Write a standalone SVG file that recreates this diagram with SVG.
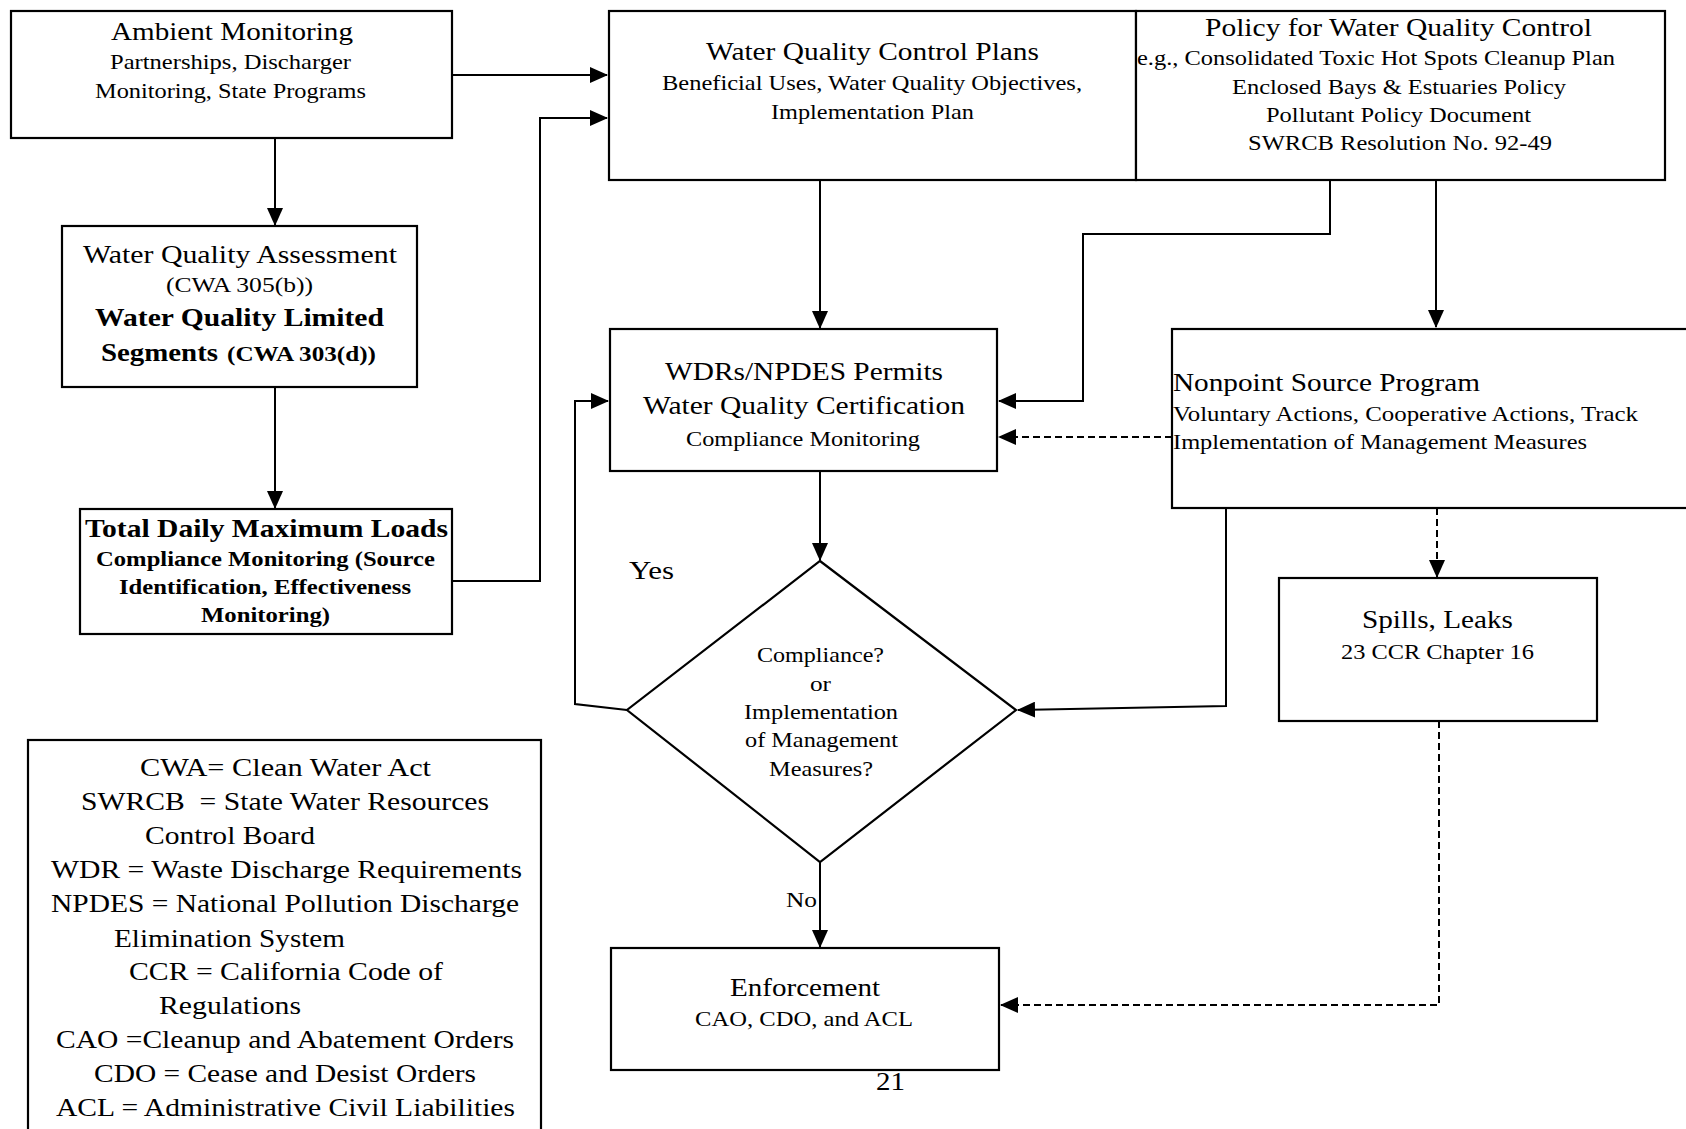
<svg xmlns="http://www.w3.org/2000/svg" width="1686" height="1129" viewBox="0 0 1686 1129" font-family="'Liberation Serif', 'Times New Roman', serif">
<style>
.box{fill:#fff;stroke:#000;stroke-width:2.2}
.ln{fill:none;stroke:#000;stroke-width:2}
.dash{fill:none;stroke:#000;stroke-width:2;stroke-dasharray:7 4}
text{font-family:"Liberation Serif","Times New Roman",serif;fill:#000}
.t{font-size:25px}
.s{font-size:21px}
.b{font-weight:bold}
.lg{font-size:26px}
</style>
<defs>
<marker id="ah" markerUnits="userSpaceOnUse" markerWidth="18" markerHeight="16" refX="17" refY="8" orient="auto">
<path d="M0,0 L18,8 L0,16 Z" fill="#000"/>
</marker>
</defs>
<rect width="1686" height="1129" fill="#fff"/>

<g id="connectors">
<path class="ln" d="M452,75 L607,75" marker-end="url(#ah)"/>
<path class="ln" d="M275,138 L275,225" marker-end="url(#ah)"/>
<path class="ln" d="M275,387 L275,508" marker-end="url(#ah)"/>
<path class="ln" d="M452,581 L540,581 L540,118 L607,118" marker-end="url(#ah)"/>
<path class="ln" d="M820,180 L820,328" marker-end="url(#ah)"/>
<path class="ln" d="M1330,180 L1330,234 L1083,234 L1083,401 L999,401" marker-end="url(#ah)"/>
<path class="ln" d="M1436,180 L1436,327" marker-end="url(#ah)"/>
<path class="dash" d="M1172,437 L999,437" marker-end="url(#ah)"/>
<path class="ln" d="M1226,508 L1226,706 L1018,710" marker-end="url(#ah)"/>
<path class="dash" d="M1437,508 L1437,577" marker-end="url(#ah)"/>
<path class="dash" d="M1439,721 L1439,1005 L1001,1005" marker-end="url(#ah)"/>
<path class="ln" d="M820,471 L820,560" marker-end="url(#ah)"/>
<path class="ln" d="M627,710 L575,704 L575,401 L608,401" marker-end="url(#ah)"/>
<path class="ln" d="M820,862 L820,947" marker-end="url(#ah)"/>
<text class="t" x="629" y="579" textLength="45" lengthAdjust="spacingAndGlyphs">Yes</text>
<text class="s" x="786" y="907" textLength="31" lengthAdjust="spacingAndGlyphs">No</text>
</g>

<g id="ambient">
<rect class="box" x="11" y="11" width="441" height="127"/>
<text class="t" x="111" y="40" textLength="242" lengthAdjust="spacingAndGlyphs">Ambient Monitoring</text>
<text class="s" x="110" y="69" textLength="241" lengthAdjust="spacingAndGlyphs">Partnerships, Discharger</text>
<text class="s" x="95" y="98" textLength="271" lengthAdjust="spacingAndGlyphs">Monitoring, State Programs</text>
</g>

<g id="wqcp">
<rect class="box" x="609" y="11" width="527" height="169"/>
<text class="t" x="706" y="60" textLength="333" lengthAdjust="spacingAndGlyphs">Water Quality Control Plans</text>
<text class="s" x="662" y="90" textLength="420" lengthAdjust="spacingAndGlyphs">Beneficial Uses, Water Quality Objectives,</text>
<text class="s" x="771" y="119" textLength="203" lengthAdjust="spacingAndGlyphs">Implementation Plan</text>
</g>

<g id="policy">
<rect class="box" x="1136" y="11" width="529" height="169"/>
<text class="t" x="1205" y="36" textLength="387" lengthAdjust="spacingAndGlyphs">Policy for Water Quality Control</text>
<text class="s" x="1137" y="65" textLength="478" lengthAdjust="spacingAndGlyphs">e.g., Consolidated Toxic Hot Spots Cleanup Plan</text>
<text class="s" x="1232" y="94" textLength="334" lengthAdjust="spacingAndGlyphs">Enclosed Bays &amp; Estuaries Policy</text>
<text class="s" x="1266" y="122" textLength="265" lengthAdjust="spacingAndGlyphs">Pollutant Policy Document</text>
<text class="s" x="1248" y="150" textLength="304" lengthAdjust="spacingAndGlyphs">SWRCB Resolution No. 92-49</text>
</g>

<g id="wqa">
<rect class="box" x="62" y="226" width="355" height="161"/>
<text class="t" x="83" y="263" textLength="314" lengthAdjust="spacingAndGlyphs">Water Quality Assessment</text>
<text class="s" x="166" y="292" textLength="147" lengthAdjust="spacingAndGlyphs">(CWA 305(b))</text>
<text class="t b" x="95" y="326" textLength="289" lengthAdjust="spacingAndGlyphs">Water Quality Limited</text>
<text class="t b" x="101" y="361" textLength="117" lengthAdjust="spacingAndGlyphs">Segments</text>
<text class="s b" x="227" y="361" textLength="149" lengthAdjust="spacingAndGlyphs">(CWA 303(d))</text>
</g>

<g id="tmdl">
<rect class="box" x="80" y="509" width="372" height="125"/>
<text class="t b" x="85" y="537" textLength="363" lengthAdjust="spacingAndGlyphs">Total Daily Maximum Loads</text>
<text class="s b" x="96" y="566" textLength="339" lengthAdjust="spacingAndGlyphs">Compliance Monitoring (Source</text>
<text class="s b" x="119" y="594" textLength="292" lengthAdjust="spacingAndGlyphs">Identification, Effectiveness</text>
<text class="s b" x="201" y="622" textLength="129" lengthAdjust="spacingAndGlyphs">Monitoring)</text>
</g>

<g id="wdr">
<rect class="box" x="610" y="329" width="387" height="142"/>
<text class="t" x="665" y="380" textLength="278" lengthAdjust="spacingAndGlyphs">WDRs/NPDES Permits</text>
<text class="t" x="643" y="414" textLength="322" lengthAdjust="spacingAndGlyphs">Water Quality Certification</text>
<text class="s" x="686" y="446" textLength="234" lengthAdjust="spacingAndGlyphs">Compliance Monitoring</text>
</g>

<g id="nps">
<rect class="box" x="1172" y="329" width="530" height="179"/>
<text class="t" x="1173" y="391" textLength="307" lengthAdjust="spacingAndGlyphs">Nonpoint Source Program</text>
<text class="s" x="1173" y="421" textLength="465" lengthAdjust="spacingAndGlyphs">Voluntary Actions, Cooperative Actions, Track</text>
<text class="s" x="1173" y="449" textLength="414" lengthAdjust="spacingAndGlyphs">Implementation of Management Measures</text>
</g>

<g id="spills">
<rect class="box" x="1279" y="578" width="318" height="143"/>
<text class="t" x="1362" y="628" textLength="151" lengthAdjust="spacingAndGlyphs">Spills, Leaks</text>
<text class="s" x="1341" y="659" textLength="193" lengthAdjust="spacingAndGlyphs">23 CCR Chapter 16</text>
</g>

<g id="decision">
<path class="box" d="M820,561 L1016,710 L820,862 L627,710 Z"/>
<text class="s" x="757" y="662" textLength="127" lengthAdjust="spacingAndGlyphs">Compliance?</text>
<text class="s" x="810" y="691" textLength="21" lengthAdjust="spacingAndGlyphs">or</text>
<text class="s" x="744" y="719" textLength="154" lengthAdjust="spacingAndGlyphs">Implementation</text>
<text class="s" x="745" y="747" textLength="153" lengthAdjust="spacingAndGlyphs">of Management</text>
<text class="s" x="769" y="776" textLength="104" lengthAdjust="spacingAndGlyphs">Measures?</text>
</g>

<g id="enforcement">
<rect class="box" x="611" y="948" width="388" height="122"/>
<text class="t" x="730" y="996" textLength="150" lengthAdjust="spacingAndGlyphs">Enforcement</text>
<text class="s" x="695" y="1026" textLength="218" lengthAdjust="spacingAndGlyphs">CAO, CDO, and ACL</text>
</g>

<g id="page-number">
<text class="t" x="876" y="1090" textLength="29" lengthAdjust="spacingAndGlyphs">21</text>
</g>

<g id="legend">
<rect class="box" x="28" y="740" width="513" height="400"/>
<text class="lg" x="140" y="776" textLength="291" lengthAdjust="spacingAndGlyphs">CWA= Clean Water Act</text>
<text class="lg" x="81" y="810" textLength="408" lengthAdjust="spacingAndGlyphs" xml:space="preserve">SWRCB  = State Water Resources</text>
<text class="lg" x="145" y="844" textLength="170" lengthAdjust="spacingAndGlyphs">Control Board</text>
<text class="lg" x="51" y="878" textLength="471" lengthAdjust="spacingAndGlyphs">WDR = Waste Discharge Requirements</text>
<text class="lg" x="51" y="912" textLength="468" lengthAdjust="spacingAndGlyphs">NPDES = National Pollution Discharge</text>
<text class="lg" x="114" y="947" textLength="231" lengthAdjust="spacingAndGlyphs">Elimination System</text>
<text class="lg" x="129" y="980" textLength="314" lengthAdjust="spacingAndGlyphs">CCR = California Code of</text>
<text class="lg" x="159" y="1014" textLength="142" lengthAdjust="spacingAndGlyphs">Regulations</text>
<text class="lg" x="56" y="1048" textLength="458" lengthAdjust="spacingAndGlyphs">CAO =Cleanup and Abatement Orders</text>
<text class="lg" x="94" y="1082" textLength="382" lengthAdjust="spacingAndGlyphs">CDO = Cease and Desist Orders</text>
<text class="lg" x="56" y="1116" textLength="459" lengthAdjust="spacingAndGlyphs">ACL = Administrative Civil Liabilities</text>
</g>
</svg>
